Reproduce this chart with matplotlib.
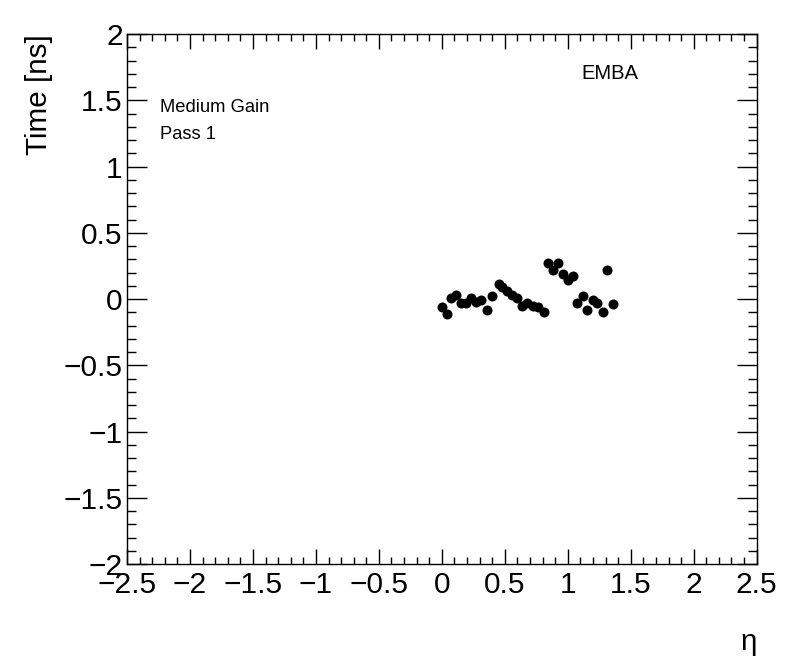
import matplotlib
matplotlib.use("Agg")
import matplotlib.pyplot as plt
from matplotlib.ticker import MultipleLocator

plt.rcParams['font.family'] = ['Liberation Sans', 'DejaVu Sans']

eta = [0.00, 0.04, 0.07, 0.11, 0.15, 0.19, 0.23, 0.27, 0.31, 0.36,
       0.40, 0.45, 0.48, 0.52, 0.56, 0.60, 0.64, 0.68, 0.72, 0.76,
       0.81, 0.84, 0.88, 0.92, 0.96, 1.00, 1.04, 1.07, 1.12, 1.15,
       1.20, 1.23, 1.28, 1.31, 1.36]
time_ns = [-0.06, -0.11, 0.01, 0.03, -0.03, -0.03, 0.01, -0.02, -0.01, -0.08,
           0.02, 0.11, 0.09, 0.06, 0.03, 0.01, -0.05, -0.03, -0.05, -0.06,
           -0.10, 0.27, 0.22, 0.27, 0.19, 0.14, 0.17, -0.03, 0.02, -0.08,
           -0.01, -0.03, -0.10, 0.22, -0.04]

fig = plt.figure(figsize=(7.96, 6.72), dpi=100)
ax = fig.add_axes([0.1596, 0.1607, 0.7910, 0.7887])

ax.plot(eta, time_ns, 'o', color='black', markersize=7.2, markeredgewidth=0)

ax.set_xlim(-2.5, 2.5)
ax.set_ylim(-2, 2)
ax.xaxis.set_major_locator(MultipleLocator(0.5))
ax.xaxis.set_minor_locator(MultipleLocator(0.1))
ax.yaxis.set_major_locator(MultipleLocator(0.5))
ax.yaxis.set_minor_locator(MultipleLocator(0.1))

def fmt(v, pos=None):
    s = ('%g' % v)
    if s in ('-0', '0'):
        return '0'
    return s.replace('-', '\u2212')

ax.xaxis.set_major_formatter(plt.FuncFormatter(fmt))
ax.yaxis.set_major_formatter(plt.FuncFormatter(fmt))

ax.tick_params(axis='x', which='major', direction='in', length=11, width=1,
               top=True, labelsize=21.5, pad=5)
ax.tick_params(axis='x', which='minor', direction='in', length=5.2, width=1, top=True)
ax.tick_params(axis='y', which='major', direction='in', length=14.4, width=1,
               right=True, labelsize=21.5, pad=3)
ax.tick_params(axis='y', which='minor', direction='in', length=6.5, width=1, right=True)
for s in ax.spines.values():
    s.set_linewidth(1)

ax.set_ylabel('Time [ns]', fontsize=21.3, loc='top')
ax.yaxis.set_label_coords(-0.118, 1.0)
ax.set_xlabel('\u03b7', fontsize=21.3, loc='right')
ax.xaxis.set_label_coords(1.0, -0.12)

ax.text(0.052, 0.862, 'Medium Gain', transform=ax.transAxes, fontsize=13.2, va='center')
ax.text(0.052, 0.811, 'Pass 1', transform=ax.transAxes, fontsize=13.2, va='center')
ax.text(0.722, 0.926, 'EMBA', transform=ax.transAxes, fontsize=14.5, va='center')

fig.savefig('out.png', dpi=100)
